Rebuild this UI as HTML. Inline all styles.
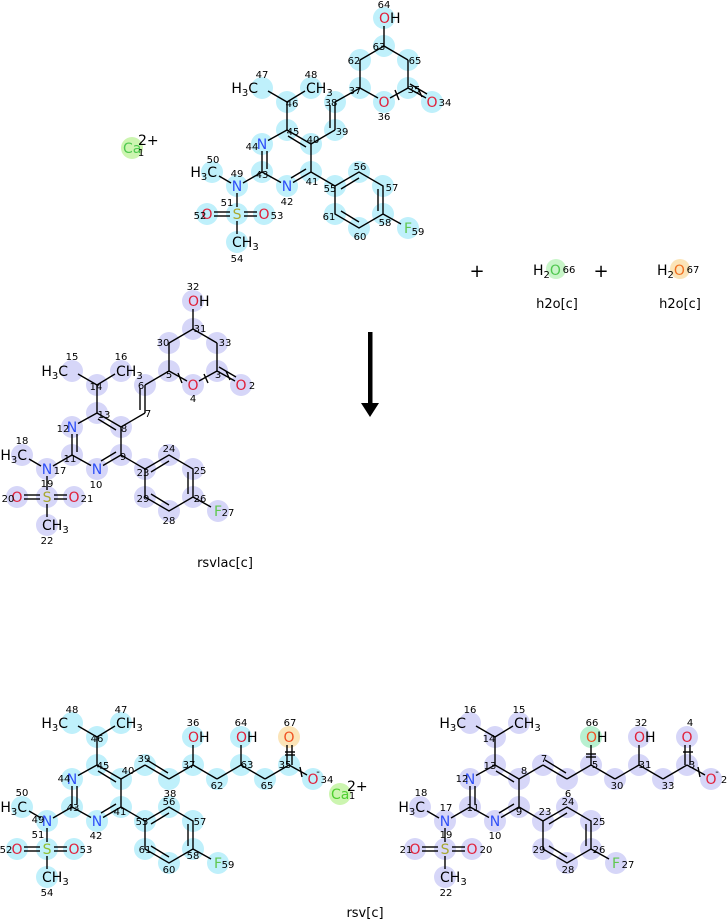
<!DOCTYPE html>
<html><head><meta charset="utf-8"><style>
html,body{margin:0;padding:0;background:#fff;}
svg{display:block;font-family:"DejaVu Sans","Liberation Sans",sans-serif;}
.n{font-size:10px;fill:#000;text-anchor:middle;}
.a{font-size:14px;text-anchor:middle;}
.N{fill:#3050f8}.O{fill:#e0203a}.S{fill:#a8a830}.F{fill:#60c850}.C{fill:#000}
line,polyline,polygon.b{stroke:#000;stroke-width:1.4;fill:none}
</style></head><body>
<svg width="727" height="920" viewBox="0 0 727 920" xmlns="http://www.w3.org/2000/svg">
<defs>
<g id="core">
<line x1="0" y1="0" x2="24" y2="14"/><line x1="24" y1="14" x2="24" y2="42"/>
<line x1="24" y1="42" x2="6" y2="52.5"/><line x1="-6" y1="52.5" x2="-25" y2="42"/>
<line x1="-25" y1="42" x2="-25" y2="21"/><line x1="-19" y1="10.5" x2="0" y2="0"/>
<line x1="1" y1="6" x2="19" y2="17"/><line x1="19" y1="39" x2="4" y2="48"/><line x1="-20" y1="39" x2="-20" y2="21"/>
<line x1="0" y1="0" x2="0" y2="-28"/><line x1="0" y1="-28" x2="-19" y2="-39"/><line x1="0" y1="-28" x2="18" y2="-39"/>
<line x1="-25" y1="42" x2="-44" y2="53"/><line x1="-56" y1="53" x2="-68" y2="46"/>
<line x1="-50" y1="63" x2="-50" y2="77"/>
<line x1="-57" y1="82" x2="-73" y2="82"/><line x1="-57" y1="86" x2="-73" y2="86"/>
<line x1="-43" y1="82" x2="-30" y2="82"/><line x1="-43" y1="86" x2="-30" y2="86"/>
<line x1="-50" y1="91" x2="-50" y2="104"/>
<line x1="24" y1="42" x2="48" y2="56"/>
<polygon class="b" points="48,56 72,42 96,56 96,84 72,98 48,84"/>
<line x1="54" y1="59" x2="72" y2="48"/><line x1="91" y1="59" x2="91" y2="81"/><line x1="72" y1="92" x2="54" y2="81"/>
<line x1="96" y1="84" x2="114" y2="94"/>
<line x1="24" y1="14" x2="48" y2="0"/>
</g>
<g id="circ">
<circle cx="0" cy="0" r="11"/><circle cx="24" cy="14" r="11"/><circle cx="24" cy="42" r="11"/><circle cx="0" cy="56" r="11"/>
<circle cx="-25" cy="42" r="11"/><circle cx="-25" cy="14" r="11"/><circle cx="0" cy="-28" r="11"/><circle cx="-25" cy="-42" r="11"/>
<circle cx="24" cy="-42" r="11"/><circle cx="-50" cy="56" r="11"/><circle cx="-75" cy="42" r="11"/><circle cx="-50" cy="84" r="11"/>
<circle cx="-80" cy="84" r="11"/><circle cx="-23" cy="84" r="11"/><circle cx="-50" cy="112" r="11"/>
<circle cx="48" cy="56" r="11"/><circle cx="72" cy="42" r="11"/><circle cx="96" cy="56" r="11"/><circle cx="96" cy="84" r="11"/>
<circle cx="72" cy="98" r="11"/><circle cx="48" cy="84" r="11"/><circle cx="121" cy="98" r="11"/>
</g>
</defs>

<!-- ===== Molecule 1 (top, cyan) ===== -->
<g fill="#bff0fb">
<use href="#circ" transform="translate(287,130)"/>
<circle cx="335" cy="102" r="11"/><circle cx="335" cy="130" r="11"/><circle cx="360" cy="88" r="11"/><circle cx="360" cy="60" r="11"/>
<circle cx="384" cy="46" r="11"/><circle cx="408" cy="60" r="11"/><circle cx="408" cy="88" r="11"/><circle cx="384" cy="102" r="11"/>
<circle cx="432" cy="102" r="11"/><circle cx="384" cy="18" r="11"/>
</g>
<circle cx="132" cy="148" r="11" fill="#ccf5b0"/>
<g stroke="#000" stroke-width="1.3">
<use href="#core" transform="translate(287,130)"/>
<line x1="335" y1="130" x2="335" y2="102"/><line x1="330" y1="128" x2="330" y2="105"/>
<line x1="335" y1="102" x2="360" y2="88"/><line x1="360" y1="88" x2="360" y2="60"/><line x1="360" y1="60" x2="384" y2="46"/>
<line x1="384" y1="46" x2="408" y2="60"/><line x1="408" y1="60" x2="408" y2="88"/><line x1="384" y1="46" x2="384" y2="26"/>
<line x1="360" y1="88" x2="378" y2="98"/><line x1="390" y1="98" x2="408" y2="88"/>
<line x1="408" y1="88" x2="426" y2="98"/><line x1="410" y1="84" x2="427" y2="94"/>
<line x1="395" y1="90" x2="399" y2="100"/><line x1="418" y1="88" x2="422" y2="97"/>
</g>
<g transform="translate(287,130)">
<text class="a N" x="0" y="61">N</text><text class="a N" x="-25" y="19">N</text><text class="a N" x="-50" y="61">N</text>
<text class="a S" x="-50" y="89">S</text><text class="a O" x="-80" y="89">O</text><text class="a O" x="-23" y="89">O</text>
<text class="a F" x="121" y="103">F</text>
<text class="a" x="-29" y="-37" style="text-anchor:end">H<tspan font-size="10" dy="3">3</tspan><tspan dy="-3">C</tspan></text>
<text class="a" x="19" y="-37" style="text-anchor:start">CH<tspan font-size="10" dy="3">3</tspan></text>
<text class="a" x="-70" y="47" style="text-anchor:end">H<tspan font-size="10" dy="3">3</tspan><tspan dy="-3">C</tspan></text>
<text class="a" x="-55" y="117" style="text-anchor:start">CH<tspan font-size="10" dy="3">3</tspan></text>
</g>
<text class="a O" x="384" y="107">O</text><text class="a O" x="432" y="107">O</text>
<text class="a" x="379" y="23" style="text-anchor:start"><tspan class="O">O</tspan>H</text>
<text class="a F" x="123" y="153" style="text-anchor:start;fill:#50c850">Ca</text>
<text class="n" x="141" y="156">1</text><text class="a" x="138" y="145" style="text-anchor:start">2+</text>
<g class="n">
<text class="n" x="384" y="8">64</text><text class="n" x="379" y="50">63</text><text class="n" x="354" y="64">62</text><text class="n" x="415" y="64">65</text>
<text class="n" x="355" y="94">37</text><text class="n" x="414" y="93">35</text><text class="n" x="384" y="120">36</text><text class="n" x="445" y="106">34</text>
<text class="n" x="331" y="106">38</text><text class="n" x="342" y="135">39</text><text class="n" x="313" y="143">40</text><text class="n" x="293" y="135">45</text>
<text class="n" x="292" y="107">46</text><text class="n" x="262" y="78">47</text><text class="n" x="311" y="78">48</text><text class="n" x="252" y="150">44</text>
<text class="n" x="262" y="178">43</text><text class="n" x="237" y="177">49</text><text class="n" x="287" y="205">42</text><text class="n" x="312" y="185">41</text>
<text class="n" x="213" y="163">50</text><text class="n" x="227" y="206">51</text><text class="n" x="200" y="219">52</text><text class="n" x="277" y="219">53</text>
<text class="n" x="237" y="262">54</text><text class="n" x="330" y="192">55</text><text class="n" x="360" y="170">56</text><text class="n" x="392" y="191">57</text>
<text class="n" x="385" y="226">58</text><text class="n" x="329" y="220">61</text><text class="n" x="360" y="240">60</text><text class="n" x="418" y="235">59</text>
</g>

<!-- plus / water -->
<text x="477" y="277" font-size="18" text-anchor="middle">+</text>
<text x="601" y="277" font-size="18" text-anchor="middle">+</text>
<circle cx="556" cy="269" r="10" fill="#c8f5c8"/>
<text class="a" x="533" y="275" style="text-anchor:start">H<tspan font-size="10" dy="3">2</tspan><tspan dy="-3" fill="#50c850">O</tspan></text>
<text class="n" x="569" y="273">66</text>
<text x="557" y="308" font-size="13" text-anchor="middle">h2o[c]</text>
<circle cx="680" cy="269" r="10" fill="#fbe4b8"/>
<text class="a" x="657" y="275" style="text-anchor:start">H<tspan font-size="10" dy="3">2</tspan><tspan dy="-3" fill="#f07020">O</tspan></text>
<text class="n" x="693" y="273">67</text>
<text x="680" y="308" font-size="13" text-anchor="middle">h2o[c]</text>

<!-- arrow -->
<rect x="368" y="332" width="4.5" height="74" fill="#000"/>
<polygon points="361,403 379,403 370,417" fill="#000"/>

<!-- ===== Molecule 2 (rsvlac, lavender) ===== -->
<g fill="#d6d6f8">
<use href="#circ" transform="translate(97,413)"/>
<circle cx="145" cy="385" r="11"/><circle cx="169" cy="371" r="11"/><circle cx="169" cy="343" r="11"/><circle cx="193" cy="329" r="11"/>
<circle cx="217" cy="343" r="11"/><circle cx="217" cy="371" r="11"/><circle cx="193" cy="385" r="11"/><circle cx="241" cy="385" r="11"/><circle cx="193" cy="301" r="11"/>
</g>
<g stroke="#000" stroke-width="1.3">
<use href="#core" transform="translate(97,413)"/>
<line x1="145" y1="413" x2="145" y2="385"/><line x1="140" y1="410" x2="140" y2="388"/>
<line x1="145" y1="385" x2="169" y2="371"/><line x1="169" y1="371" x2="169" y2="343"/><line x1="169" y1="343" x2="193" y2="329"/>
<line x1="193" y1="329" x2="217" y2="343"/><line x1="217" y1="343" x2="217" y2="371"/><line x1="193" y1="329" x2="193" y2="309"/>
<line x1="169" y1="371" x2="187" y2="381"/><line x1="199" y1="381" x2="217" y2="371"/>
<line x1="217" y1="371" x2="235" y2="381"/><line x1="219" y1="367" x2="236" y2="377"/>
<line x1="178" y1="373" x2="182" y2="383"/><line x1="226" y1="371" x2="230" y2="380"/><line x1="204" y1="374" x2="208" y2="383"/>
</g>
<g transform="translate(97,413)">
<text class="a N" x="0" y="61">N</text><text class="a N" x="-25" y="19">N</text><text class="a N" x="-50" y="61">N</text>
<text class="a S" x="-50" y="89">S</text><text class="a O" x="-80" y="89">O</text><text class="a O" x="-23" y="89">O</text>
<text class="a F" x="121" y="103">F</text>
<text class="a" x="-29" y="-37" style="text-anchor:end">H<tspan font-size="10" dy="3">3</tspan><tspan dy="-3">C</tspan></text>
<text class="a" x="19" y="-37" style="text-anchor:start">CH<tspan font-size="10" dy="3">3</tspan></text>
<text class="a" x="-70" y="47" style="text-anchor:end">H<tspan font-size="10" dy="3">3</tspan><tspan dy="-3">C</tspan></text>
<text class="a" x="-55" y="117" style="text-anchor:start">CH<tspan font-size="10" dy="3">3</tspan></text>
</g>
<text class="a O" x="193" y="390">O</text><text class="a O" x="241" y="390">O</text>
<text class="a" x="188" y="306" style="text-anchor:start"><tspan class="O">O</tspan>H</text>
<g>
<text class="n" x="193" y="290">32</text><text class="n" x="200" y="332">31</text><text class="n" x="163" y="346">30</text><text class="n" x="225" y="346">33</text>
<text class="n" x="169" y="378">5</text><text class="n" x="218" y="378">3</text><text class="n" x="193" y="402">4</text><text class="n" x="252" y="389">2</text>
<text class="n" x="141" y="389">6</text><text class="n" x="148" y="417">7</text><text class="n" x="124" y="432">8</text><text class="n" x="104" y="418">13</text>
<text class="n" x="96" y="390">14</text><text class="n" x="72" y="360">15</text><text class="n" x="121" y="360">16</text><text class="n" x="63" y="432">12</text>
<text class="n" x="70" y="462">11</text><text class="n" x="60" y="474">17</text><text class="n" x="96" y="488">10</text><text class="n" x="123" y="460">9</text>
<text class="n" x="22" y="444">18</text><text class="n" x="47" y="487">19</text><text class="n" x="8" y="502">20</text><text class="n" x="87" y="502">21</text>
<text class="n" x="47" y="544">22</text><text class="n" x="143" y="476">23</text><text class="n" x="169" y="452">24</text><text class="n" x="200" y="474">25</text>
<text class="n" x="200" y="502">26</text><text class="n" x="143" y="502">29</text><text class="n" x="169" y="524">28</text><text class="n" x="228" y="516">27</text>
</g>
<text x="225" y="567" font-size="13" text-anchor="middle">rsvlac[c]</text>

<!-- ===== Molecule 3 (rsv, cyan) ===== -->
<g fill="#bff0fb">
<use href="#circ" transform="translate(97,765)"/>
<circle cx="145" cy="765" r="11"/><circle cx="169" cy="779" r="11"/><circle cx="193" cy="765" r="11"/><circle cx="193" cy="737" r="11"/>
<circle cx="217" cy="779" r="11"/><circle cx="241" cy="765" r="11"/><circle cx="241" cy="737" r="11"/><circle cx="265" cy="779" r="11"/>
<circle cx="289" cy="765" r="11"/><circle cx="313" cy="779" r="11"/>
</g>
<circle cx="289" cy="737" r="11" fill="#fbe4b8"/>
<circle cx="340" cy="794" r="11" fill="#ccf5b0"/>
<g stroke="#000" stroke-width="1.3">
<use href="#core" transform="translate(97,765)"/>
<line x1="145" y1="765" x2="169" y2="779"/><line x1="147" y1="760" x2="168" y2="773"/>
<line x1="169" y1="779" x2="193" y2="765"/><line x1="193" y1="765" x2="193" y2="745"/><line x1="193" y1="765" x2="217" y2="779"/>
<line x1="217" y1="779" x2="241" y2="765"/><line x1="241" y1="765" x2="241" y2="745"/><line x1="241" y1="765" x2="265" y2="779"/>
<line x1="265" y1="779" x2="289" y2="765"/><line x1="287" y1="765" x2="287" y2="745"/><line x1="292" y1="765" x2="292" y2="745"/>
<line x1="285" y1="752" x2="295" y2="752"/><line x1="285" y1="755" x2="295" y2="755"/>
<line x1="289" y1="765" x2="307" y2="775"/><line x1="300" y1="767" x2="302" y2="777"/>
</g>
<g transform="translate(97,765)">
<text class="a N" x="0" y="61">N</text><text class="a N" x="-25" y="19">N</text><text class="a N" x="-50" y="61">N</text>
<text class="a S" x="-50" y="89" style="fill:#90c030">S</text><text class="a O" x="-80" y="89">O</text><text class="a O" x="-23" y="89">O</text>
<text class="a F" x="121" y="103">F</text>
<text class="a" x="-29" y="-37" style="text-anchor:end">H<tspan font-size="10" dy="3">3</tspan><tspan dy="-3">C</tspan></text>
<text class="a" x="19" y="-37" style="text-anchor:start">CH<tspan font-size="10" dy="3">3</tspan></text>
<text class="a" x="-70" y="47" style="text-anchor:end">H<tspan font-size="10" dy="3">3</tspan><tspan dy="-3">C</tspan></text>
<text class="a" x="-55" y="117" style="text-anchor:start">CH<tspan font-size="10" dy="3">3</tspan></text>
</g>
<text class="a" x="188" y="742" style="text-anchor:start"><tspan class="O">O</tspan>H</text>
<text class="a" x="236" y="742" style="text-anchor:start"><tspan class="O">O</tspan>H</text>
<text class="a" x="289" y="742" fill="#f05020">O</text>
<text class="a O" x="313" y="784">O</text><text class="n" x="318" y="775">-</text>
<text class="a" x="331" y="799" style="text-anchor:start;fill:#50d030">Ca</text>
<text class="n" x="352" y="799">1</text><text class="a" x="347" y="791" style="text-anchor:start">2+</text>
<g>
<text class="n" x="72" y="713">48</text><text class="n" x="121" y="713">47</text><text class="n" x="97" y="742">46</text><text class="n" x="103" y="769">45</text>
<text class="n" x="128" y="774">40</text><text class="n" x="64" y="782">44</text><text class="n" x="73" y="811">43</text><text class="n" x="38" y="823">49</text>
<text class="n" x="96" y="839">42</text><text class="n" x="120" y="815">41</text><text class="n" x="22" y="796">50</text><text class="n" x="38" y="838">51</text>
<text class="n" x="6" y="853">52</text><text class="n" x="86" y="853">53</text><text class="n" x="47" y="896">54</text><text class="n" x="144" y="762">39</text>
<text class="n" x="170" y="797">38</text><text class="n" x="189" y="768">37</text><text class="n" x="193" y="726">36</text><text class="n" x="217" y="789">62</text>
<text class="n" x="247" y="768">63</text><text class="n" x="241" y="726">64</text><text class="n" x="267" y="789">65</text><text class="n" x="285" y="768">35</text>
<text class="n" x="290" y="726">67</text><text class="n" x="327" y="783">34</text><text class="n" x="142" y="825">55</text><text class="n" x="169" y="805">56</text>
<text class="n" x="200" y="825">57</text><text class="n" x="193" y="859">58</text><text class="n" x="145" y="853">61</text><text class="n" x="169" y="873">60</text>
<text class="n" x="228" y="868">59</text>
</g>
<text x="365" y="917" font-size="13" text-anchor="middle">rsv[c]</text>

<!-- ===== Molecule 4 (rsv, lavender) ===== -->
<g fill="#d6d6f8">
<use href="#circ" transform="translate(495,765)"/>
<circle cx="543" cy="765" r="11"/><circle cx="567" cy="779" r="11"/><circle cx="591" cy="765" r="11"/>
<circle cx="615" cy="779" r="11"/><circle cx="639" cy="765" r="11"/><circle cx="639" cy="737" r="11"/><circle cx="663" cy="779" r="11"/>
<circle cx="687" cy="765" r="11"/><circle cx="687" cy="737" r="11"/><circle cx="711" cy="779" r="11"/>
</g>
<circle cx="591" cy="737" r="11" fill="#b8f0d0"/>
<g stroke="#000" stroke-width="1.3">
<use href="#core" transform="translate(495,765)"/>
<line x1="543" y1="765" x2="567" y2="779"/><line x1="545" y1="760" x2="566" y2="773"/>
<line x1="567" y1="779" x2="591" y2="765"/><line x1="591" y1="765" x2="591" y2="745"/><line x1="591" y1="765" x2="615" y2="779"/>
<line x1="586" y1="754" x2="596" y2="754"/><line x1="586" y1="757" x2="596" y2="757"/>
<line x1="615" y1="779" x2="639" y2="765"/><line x1="639" y1="765" x2="639" y2="745"/><line x1="639" y1="765" x2="663" y2="779"/>
<line x1="663" y1="779" x2="687" y2="765"/><line x1="685" y1="765" x2="685" y2="745"/><line x1="690" y1="765" x2="690" y2="745"/>
<line x1="683" y1="752" x2="693" y2="752"/>
<line x1="687" y1="765" x2="705" y2="775"/><line x1="698" y1="767" x2="700" y2="777"/>
</g>
<g transform="translate(495,765)">
<text class="a N" x="0" y="61">N</text><text class="a N" x="-25" y="19">N</text><text class="a N" x="-50" y="61">N</text>
<text class="a S" x="-50" y="89">S</text><text class="a O" x="-80" y="89">O</text><text class="a O" x="-23" y="89">O</text>
<text class="a F" x="121" y="103">F</text>
<text class="a" x="-29" y="-37" style="text-anchor:end">H<tspan font-size="10" dy="3">3</tspan><tspan dy="-3">C</tspan></text>
<text class="a" x="19" y="-37" style="text-anchor:start">CH<tspan font-size="10" dy="3">3</tspan></text>
<text class="a" x="-70" y="47" style="text-anchor:end">H<tspan font-size="10" dy="3">3</tspan><tspan dy="-3">C</tspan></text>
<text class="a" x="-55" y="117" style="text-anchor:start">CH<tspan font-size="10" dy="3">3</tspan></text>
</g>
<text class="a" x="586" y="742" style="text-anchor:start"><tspan fill="#f05020">O</tspan>H</text>
<text class="a" x="634" y="742" style="text-anchor:start"><tspan class="O">O</tspan>H</text>
<text class="a O" x="687" y="742">O</text>
<text class="a O" x="711" y="784">O</text><text class="n" x="717" y="775">-</text>
<g>
<text class="n" x="470" y="713">16</text><text class="n" x="519" y="713">15</text><text class="n" x="489" y="742">14</text><text class="n" x="490" y="769">13</text>
<text class="n" x="524" y="774">8</text><text class="n" x="462" y="782">12</text><text class="n" x="473" y="811">11</text><text class="n" x="446" y="811">17</text>
<text class="n" x="495" y="839">10</text><text class="n" x="519" y="815">9</text><text class="n" x="421" y="796">18</text><text class="n" x="446" y="838">19</text>
<text class="n" x="406" y="853">21</text><text class="n" x="486" y="853">20</text><text class="n" x="446" y="896">22</text><text class="n" x="544" y="762">7</text>
<text class="n" x="568" y="797">6</text><text class="n" x="595" y="768">5</text><text class="n" x="592" y="726">66</text><text class="n" x="617" y="789">30</text>
<text class="n" x="645" y="768">31</text><text class="n" x="641" y="726">32</text><text class="n" x="668" y="789">33</text><text class="n" x="692" y="768">3</text>
<text class="n" x="690" y="726">4</text><text class="n" x="724" y="783">2</text><text class="n" x="545" y="815">23</text><text class="n" x="568" y="805">24</text>
<text class="n" x="599" y="825">25</text><text class="n" x="599" y="853">26</text><text class="n" x="539" y="853">29</text><text class="n" x="568" y="873">28</text>
<text class="n" x="628" y="868">27</text>
</g>
</svg>
</body></html>
